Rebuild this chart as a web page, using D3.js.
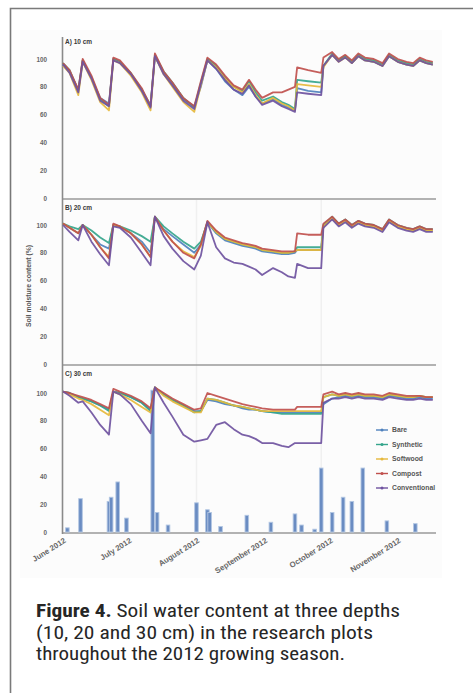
<!DOCTYPE html>
<html><head><meta charset="utf-8">
<script src="https://cdn.jsdelivr.net/npm/d3@7/dist/d3.min.js"></script>
<style>
html,body{margin:0;padding:0;background:#fff;}
svg{display:block;}
</style></head>
<body>
<svg id="chart" width="473" height="693"></svg>
<script>
// ---- data ----
const dates = ["2012-06-01","2012-06-04","2012-06-08","2012-06-10","2012-06-14","2012-06-18","2012-06-22","2012-06-24","2012-06-27","2012-07-02",
"2012-07-07","2012-07-11","2012-07-13","2012-07-17","2012-07-21","2012-07-26","2012-07-31","2012-08-03","2012-08-06","2012-08-10",
"2012-08-14","2012-08-18","2012-08-22","2012-08-25","2012-08-28","2012-08-31","2012-09-05","2012-09-09","2012-09-12","2012-09-15",
"2012-09-16","2012-09-21","2012-09-27","2012-09-28","2012-10-02","2012-10-05","2012-10-08","2012-10-11","2012-10-14","2012-10-17",
"2012-10-21","2012-10-25","2012-10-28","2012-11-01","2012-11-05","2012-11-08","2012-11-11","2012-11-14","2012-11-17"];

const seriesNames = ["Bare","Synthetic","Softwood","Compost","Conventional"];
const seriesColors = ["#4f81bd","#35a58c","#e6b83c","#c0504d","#6f52a0"];

// Panel A) 10 cm
const a_bare = [96,91,78,99,86,72,68,100,98,89,78,67,102,90,81,71,66,80,99,93,84,78,74,80,73,68,71,67,65,63,79,77,76,95,103,99,102,97,102,99,98,95,102,98,96,95,99,97,96];
const a_synthetic = [97,92,77,99,87,71,66,100,98,90,78,66,103,91,83,72,65,83,100,95,87,80,77,84,76,70,73,69,67,64,85,84,83,95,104,99,102,98,103,100,99,96,103,99,97,96,100,98,97];
const a_softwood = [95,90,74,98,85,69,63,99,97,88,76,63,102,89,80,69,62,81,99,94,86,80,76,82,74,68,72,68,66,63,82,81,80,94,103,98,101,97,102,99,98,95,102,98,96,95,99,97,96];
const a_compost = [97,92,78,100,88,72,67,101,99,90,79,66,104,91,83,72,66,84,101,96,88,81,78,85,78,72,76,76,78,80,94,92,90,101,105,100,103,99,104,101,100,97,104,100,98,97,101,99,98];
const a_conventional = [96,90,76,98,86,70,66,99,97,89,77,65,102,89,81,70,64,82,99,93,85,78,75,81,73,67,70,66,64,62,76,75,74,95,103,98,101,97,102,99,98,95,102,98,96,95,99,97,96];

// Panel B) 20 cm
const b_bare = [101,98,94,100,93,86,83,100,99,94,88,80,106,97,92,86,80,86,102,94,89,87,85,84,83,81,80,79,79,80,82,82,82,99,105,100,103,99,102,100,99,96,103,99,97,96,98,96,96];
const b_synthetic = [101,99,97,100,96,91,87,100,99,96,92,88,106,99,94,88,83,88,102,95,90,88,86,85,84,82,81,80,80,81,84,84,84,100,106,101,104,100,103,101,100,97,104,100,98,97,99,97,97];
const b_softwood = [101,98,94,100,93,84,77,100,99,94,86,77,106,96,88,81,77,85,102,95,90,88,86,85,84,82,81,80,80,81,82,82,82,99,105,100,103,99,102,100,99,96,103,99,97,96,98,96,96];
const b_compost = [101,98,94,100,93,84,76,101,99,94,86,77,106,96,88,80,76,86,103,96,91,89,87,86,85,83,82,81,81,81,94,93,93,101,106,101,104,100,103,101,100,97,104,100,98,97,99,97,97];
const b_conventional = [100,95,89,100,88,79,71,99,98,91,80,71,106,92,83,74,68,78,102,84,76,73,72,70,68,64,69,66,63,62,72,69,69,98,104,99,102,98,101,99,98,95,102,98,96,95,97,95,95];

// Panel C) 30 cm
const c_bare = [101,100,97,96,94,91,88,101,100,97,93,88,104,99,95,91,87,87,95,94,92,91,89,88,88,87,86,86,86,86,86,86,86,92,96,97,98,97,98,97,97,96,98,97,96,96,97,96,96];
const c_synthetic = [101,100,97,96,94,91,87,101,100,97,93,87,104,99,95,91,86,87,96,95,93,91,90,89,88,87,86,85,85,85,85,85,85,97,99,98,99,98,99,98,98,97,99,98,97,97,98,97,97];
const c_softwood = [101,99,96,95,92,88,84,101,99,95,90,86,104,98,94,90,86,86,96,95,93,91,90,89,88,87,87,87,87,87,87,87,87,97,99,98,99,98,99,98,98,97,99,98,97,97,98,97,97];
const c_compost = [101,100,98,97,95,92,89,103,101,98,94,89,104,100,96,92,88,89,100,98,96,94,92,91,90,89,88,88,88,88,90,90,90,99,101,99,100,99,100,99,99,98,100,99,98,98,98,97,97];
const c_conventional = [101,98,93,94,86,77,70,101,99,92,80,71,104,93,83,70,65,66,67,77,79,74,70,69,67,64,64,62,61,64,64,64,64,93,96,96,97,96,97,96,96,95,97,96,95,95,96,95,95];

// Precipitation (panel C)
const rainDates = ["2012-06-03","2012-06-09","2012-06-22","2012-06-23","2012-06-26","2012-06-30","2012-07-12","2012-07-14","2012-07-19","2012-08-01",
"2012-08-06","2012-08-07","2012-08-12","2012-08-24","2012-09-04","2012-09-15","2012-09-18","2012-09-24","2012-09-27","2012-10-02",
"2012-10-07","2012-10-11","2012-10-16","2012-10-27","2012-11-09"];
const rainValues = [3,24,22,25,36,10,102,14,5,21,16,14,4,12,7,13,5,2,46,14,25,22,46,8,6];

const yTicks = [0,20,40,60,80,100];
const monthTicks = ["2012-06-01","2012-07-01","2012-08-01","2012-09-01","2012-10-01","2012-11-01"];
const panelLabels = ["A) 10 cm","B) 20 cm","C) 30 cm"];
const yTitle = "Soil moisture content (%)";
const captionBold = "Figure 4.";
const captionLines = [" Soil water content at three depths","(10, 20 and 30 cm) in the research plots","throughout the 2012 growing season."];

// ---- drawing ----
const parse = d3.timeParse("%Y-%m-%d");
const svg = d3.select("#chart");
const W = 473, H = 693;

// frame (left + top edges)
svg.append("path").attr("d", `M10.5,${H} L10.5,8.5 L${W},8.5`)
  .attr("fill","none").attr("stroke","#7a7a7a").attr("stroke-width",1.6);

// faint chart background
svg.append("rect").attr("x",20).attr("y",30).attr("width",422).attr("height",548).attr("fill","#fcfcfc");

const x = d3.scaleTime().domain([parse("2012-06-01"), parse("2012-11-18")]).range([63, 435]);

const panels = [
  {y0:198, y1:59, series:[a_bare,a_synthetic,a_softwood,a_compost,a_conventional], labelY:44},
  {y0:364, y1:225, series:[b_bare,b_synthetic,b_softwood,b_compost,b_conventional], labelY:210},
  {y0:532, y1:393, series:[c_bare,c_synthetic,c_softwood,c_compost,c_conventional], labelY:376}
];

const parsedDates = dates.map(parse);

// faint vertical gridline artifacts
[ "2012-08-01","2012-09-27"].forEach(d=>{
  svg.append("line").attr("x1",x(parse(d))).attr("x2",x(parse(d))).attr("y1",200).attr("y2",530)
    .attr("stroke","#f0f0f0").attr("stroke-width",1.5);
});

panels.forEach((p,pi)=>{
  const y = d3.scaleLinear().domain([0,100]).range([p.y0,p.y1]);
  p.y = y;
  const ax = svg.append("g").attr("transform","translate(63,0)")
    .call(d3.axisLeft(y).tickValues(yTicks).tickSize(0).tickPadding(16));
  ax.select(".domain").remove();
  ax.selectAll("text").attr("font-family","Liberation Sans, Arial, sans-serif").attr("font-size",6.3)
    .attr("font-weight","bold").attr("fill","#666");
  svg.append("line").attr("x1",62).attr("x2",436).attr("y1",p.y0+1).attr("y2",p.y0+1)
    .attr("stroke","#9a9a9a").attr("stroke-width",1.6);
  svg.append("text").attr("x",65).attr("y",p.labelY).text(panelLabels[pi])
    .attr("font-family","Liberation Sans, Arial, sans-serif").attr("font-size",6.5).attr("font-weight","bold").attr("fill","#3a3a3a");
});

// vertical axis line
svg.append("line").attr("x1",62.5).attr("x2",62.5).attr("y1",37).attr("y2",534)
  .attr("stroke","#8a8a8a").attr("stroke-width",1.6);

// precipitation bars (panel C)
const yc = panels[2].y;
svg.append("g").selectAll("rect").data(rainDates.map((d,i)=>({d:parse(d), v:rainValues[i]})))
  .join("rect")
  .attr("x", d=>x(d.d)-1.8).attr("width",3.6)
  .attr("y", d=>yc(d.v)).attr("height", d=>yc(0)-yc(d.v))
  .attr("fill","#6a8cc2").attr("stroke","#b3c7e3").attr("stroke-width",0.9);

// lines
panels.forEach(p=>{
  const line = d3.line().x((v,i)=>x(parsedDates[i])).y(v=>p.y(v));
  p.series.forEach((s,si)=>{
    svg.append("path").datum(s).attr("d",line).attr("fill","none")
      .attr("stroke",seriesColors[si]).attr("stroke-width",1.8).attr("stroke-linejoin","round").attr("opacity",0.92);
  });
});

// x axis labels (rotated)
const xa = svg.append("g").attr("transform","translate(0,536)")
  .call(d3.axisBottom(x).tickValues(monthTicks.map(parse)).tickSize(0).tickFormat(d3.timeFormat("%B %Y")));
xa.select(".domain").remove();
xa.selectAll("text").attr("text-anchor","end").attr("dy",0).attr("y",0)
  .attr("transform","translate(3,6) rotate(-32)")
  .attr("font-family","Liberation Sans, Arial, sans-serif").attr("font-size",7.8).attr("font-weight","bold").attr("fill","#666");

// y title
svg.append("text").attr("transform","translate(31,286) rotate(-90)").attr("text-anchor","middle")
  .text(yTitle).attr("font-family","Liberation Sans, Arial, sans-serif").attr("font-size",6.8)
  .attr("font-weight","bold").attr("fill","#555");

// legend
const lg = svg.append("g");
seriesNames.forEach((n,i)=>{
  const ly = 430 + i*14.5;
  lg.append("line").attr("x1",376).attr("x2",388).attr("y1",ly).attr("y2",ly)
    .attr("stroke",seriesColors[i]).attr("stroke-width",1.4);
  lg.append("circle").attr("cx",382).attr("cy",ly).attr("r",1.5).attr("fill",seriesColors[i]);
  lg.append("text").attr("x",392).attr("y",ly+2.3).text(n)
    .attr("font-family","Liberation Sans, Arial, sans-serif").attr("font-size",6.8).attr("font-weight","bold").attr("fill","#555");
});

// caption
const capFont = "'Liberation Sans Narrow','Roboto Condensed','DejaVu Sans Condensed',sans-serif";
const capLens = [364, 337, 309];
const capYs = [617, 639, 660];
captionLines.forEach((t,i)=>{
  const tx = svg.append("text").attr("x",36).attr("y",capYs[i])
    .attr("font-family",capFont).attr("font-size",18.5).attr("fill","#262626")
    .attr("textLength",capLens[i]).attr("lengthAdjust","spacingAndGlyphs");
  if(i===0){
    tx.append("tspan").attr("font-weight","bold").text(captionBold);
  }
  tx.append("tspan").text(t);
});
</script>
</body></html>
